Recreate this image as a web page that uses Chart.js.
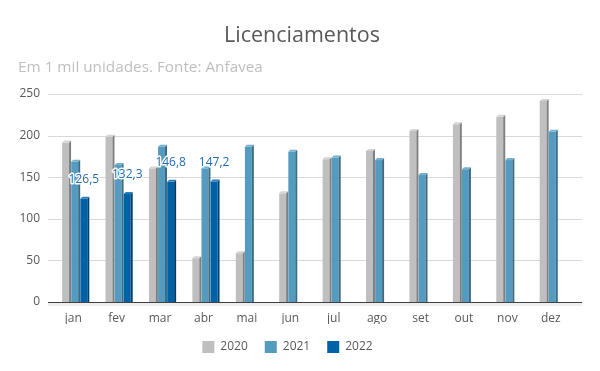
<!DOCTYPE html>
<html>
<head>
<meta charset="utf-8">
<script src="https://cdn.jsdelivr.net/npm/chart.js@4"></script>
<style>
html,body{margin:0;padding:0;background:#fff;}
#wrap{width:600px;height:371px;}
</style>
</head>
<body>
<div id="wrap"><canvas id="c" width="600" height="371"></canvas></div>
<script>
const categories = ['jan','fev','mar','abr','mai','jun','jul','ago','set','out','nov','dez'];
const seriesNames = ['2020','2021','2022'];
const values2020 = [194, 201, 163, 55, 61, 133, 174, 184, 208, 216, 225, 244];
const values2021 = [171, 167, 189, 163, 189, 183, 176, 173, 155, 162, 173, 207];
const values2022 = [126.5, 132.3, 146.8, 147.2, null, null, null, null, null, null, null, null];
const yTicks = [0, 50, 100, 150, 200, 250];
const titleText = 'Licenciamentos';
const subtitleText = 'Em 1 mil unidades. Fonte: Anfavea';

const FONT = "'Open Sans', 'Liberation Sans', sans-serif";
const frontColors = ['#bfbfbf', '#559bbf', '#0062a6'];
const sideColors  = ['#7f7f7f', '#3b6c86', '#003f6d'];
const topColors   = ['#d4d4d4', '#75b0cf', '#2a7bbd'];
const DEPTH = 2;

const decorPlugin = {
  id: 'decor',
  beforeDatasetsDraw(chart) {
    const ctx = chart.ctx;
    const y = chart.scales.y;
    const area = chart.chartArea;
    ctx.save();
    ctx.strokeStyle = '#d9d9d9';
    ctx.lineWidth = 1;
    yTicks.forEach(v => {
      if (v === 0) return;
      const py = Math.round(y.getPixelForValue(v)) + 0.5;
      ctx.beginPath();
      ctx.moveTo(area.left - 6, py);
      ctx.lineTo(area.right + 7, py);
      ctx.stroke();
    });
    const base = Math.round(y.getPixelForValue(0));
    ctx.fillStyle = '#efefef';
    ctx.fillRect(area.left - 6, base, area.right - area.left + 13, 4);
    chart.data.datasets.forEach((ds, di) => {
      const meta = chart.getDatasetMeta(di);
      meta.data.forEach((el, i) => {
        const v = ds.data[i];
        if (v === null || v === undefined) return;
        const p = el.getProps(['x','y','base','width'], true);
        const w = p.width;
        const L = p.x - w / 2;
        const R = L + w - DEPTH;
        const top = p.y;
        const b = p.base;
        ctx.fillStyle = frontColors[di];
        ctx.fillRect(L, top + DEPTH, R - L, b - top - DEPTH);
        ctx.fillStyle = sideColors[di];
        ctx.beginPath();
        ctx.moveTo(R, top + DEPTH);
        ctx.lineTo(R + DEPTH, top);
        ctx.lineTo(R + DEPTH, b);
        ctx.lineTo(R, b);
        ctx.closePath();
        ctx.fill();
        ctx.fillStyle = topColors[di];
        ctx.beginPath();
        ctx.moveTo(L, top + DEPTH);
        ctx.lineTo(L + DEPTH, top);
        ctx.lineTo(R + DEPTH, top);
        ctx.lineTo(R, top + DEPTH);
        ctx.closePath();
        ctx.fill();
      });
    });
    ctx.strokeStyle = '#404040';
    ctx.beginPath();
    ctx.moveTo(area.left - 6, base + 0.5);
    ctx.lineTo(area.right + 7, base + 0.5);
    ctx.stroke();
    const meta2 = chart.getDatasetMeta(2);
    ctx.font = '12px ' + FONT;
    ctx.textAlign = 'center';
    ctx.textBaseline = 'middle';
    ctx.lineJoin = 'round';
    meta2.data.forEach((el, i) => {
      const v = values2022[i];
      if (v === null || v === undefined) return;
      const p = el.getProps(['x','y','width'], true);
      const txt = v.toFixed(1).replace('.', ',');
      const tx = p.x - DEPTH / 2;
      const ty = p.y - 17;
      ctx.strokeStyle = 'rgba(255,255,255,0.95)';
      ctx.lineWidth = 3;
      ctx.strokeText(txt, tx, ty);
      ctx.fillStyle = '#1f6db3';
      ctx.fillText(txt, tx, ty);
    });
    ctx.textBaseline = 'alphabetic';
    ctx.textAlign = 'center';
    ctx.fillStyle = '#595959';
    ctx.font = '21.5px ' + FONT;
    ctx.fillText(titleText, 302, 42);
    ctx.textAlign = 'left';
    ctx.fillStyle = '#bfbfbf';
    ctx.font = '15.3px ' + FONT;
    ctx.fillText(subtitleText, 18, 72);
    ctx.restore();
    return false;
  }
};

new Chart(document.getElementById('c'), {
  type: 'bar',
  data: {
    labels: categories,
    datasets: [
      { label: seriesNames[0], data: values2020, backgroundColor: frontColors[0], borderWidth: 0 },
      { label: seriesNames[1], data: values2021, backgroundColor: frontColors[1], borderWidth: 0 },
      { label: seriesNames[2], data: values2022, backgroundColor: frontColors[2], borderWidth: 0 }
    ]
  },
  options: {
    responsive: false,
    animation: false,
    devicePixelRatio: 1,
    layout: { padding: { left: 0, right: 25, top: 94, bottom: 8 } },
    datasets: { bar: { categoryPercentage: 0.63, barPercentage: 0.98 } },
    scales: {
      x: {
        afterFit: (s) => { s.height = 22; },
        grid: { display: false, drawTicks: false },
        border: { display: false },
        ticks: { color: '#595959', font: { family: FONT, size: 12, lineHeight: 1 }, padding: 10.5, labelOffset: -2.5, maxRotation: 0 }
      },
      y: {
        min: 0, max: 250,
        afterBuildTicks: (s) => { s.ticks = yTicks.map(v => ({ value: v })); },
        afterFit: (s) => { s.width = 54; },
        grid: { display: false, drawTicks: false },
        border: { display: false },
        ticks: { color: '#595959', font: { family: FONT, size: 12 }, padding: 14 }
      }
    },
    plugins: {
      legend: {
        position: 'bottom',
        labels: { boxWidth: 12, boxHeight: 12, padding: 17, color: '#595959', font: { family: FONT, size: 12 } }
      },
      tooltip: { enabled: false }
    }
  },
  plugins: [decorPlugin]
});
</script>
</body>
</html>
